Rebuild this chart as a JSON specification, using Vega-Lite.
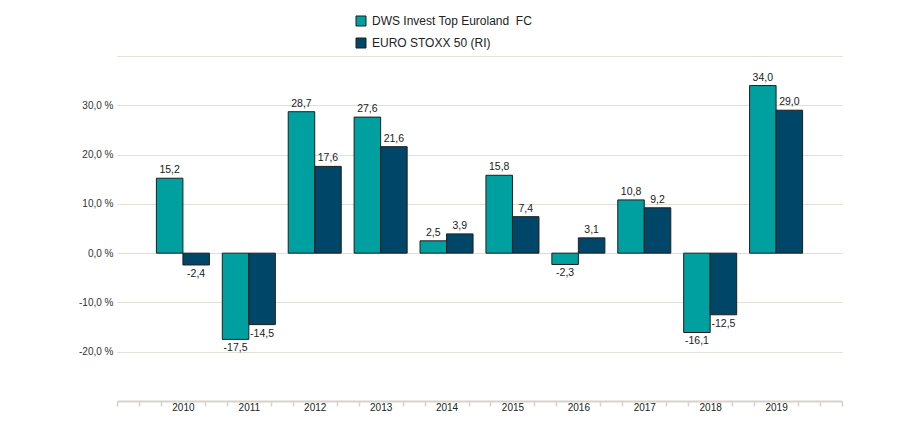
{
  "$schema": "https://vega.github.io/schema/vega-lite/v6.json",
  "width": 725,
  "height": 345,
  "autosize": "none",
  "padding": {"left": 117, "top": 56, "right": 56, "bottom": 27},
  "background": "white",
  "config": {
    "locale": {"number": {"decimal": ",", "thousands": ".", "grouping": [3], "currency": ["", " €"], "minus": "-"}},
    "view": {"stroke": null},
    "font": "Liberation Sans"
  },
  "data": {
    "values": [
      {"year": 2010, "series": "DWS Invest Top Euroland\u00a0 FC", "value": 15.2},
      {"year": 2011, "series": "DWS Invest Top Euroland\u00a0 FC", "value": -17.5},
      {"year": 2012, "series": "DWS Invest Top Euroland\u00a0 FC", "value": 28.7},
      {"year": 2013, "series": "DWS Invest Top Euroland\u00a0 FC", "value": 27.6},
      {"year": 2014, "series": "DWS Invest Top Euroland\u00a0 FC", "value": 2.5},
      {"year": 2015, "series": "DWS Invest Top Euroland\u00a0 FC", "value": 15.8},
      {"year": 2016, "series": "DWS Invest Top Euroland\u00a0 FC", "value": -2.3},
      {"year": 2017, "series": "DWS Invest Top Euroland\u00a0 FC", "value": 10.8},
      {"year": 2018, "series": "DWS Invest Top Euroland\u00a0 FC", "value": -16.1},
      {"year": 2019, "series": "DWS Invest Top Euroland\u00a0 FC", "value": 34.0},
      {"year": 2010, "series": "EURO STOXX 50 (RI)", "value": -2.4},
      {"year": 2011, "series": "EURO STOXX 50 (RI)", "value": -14.5},
      {"year": 2012, "series": "EURO STOXX 50 (RI)", "value": 17.6},
      {"year": 2013, "series": "EURO STOXX 50 (RI)", "value": 21.6},
      {"year": 2014, "series": "EURO STOXX 50 (RI)", "value": 3.9},
      {"year": 2015, "series": "EURO STOXX 50 (RI)", "value": 7.4},
      {"year": 2016, "series": "EURO STOXX 50 (RI)", "value": 3.1},
      {"year": 2017, "series": "EURO STOXX 50 (RI)", "value": 9.2},
      {"year": 2018, "series": "EURO STOXX 50 (RI)", "value": -12.5},
      {"year": 2019, "series": "EURO STOXX 50 (RI)", "value": 29.0}
    ]
  },
  "encoding": {
    "y": {
      "field": "value",
      "type": "quantitative",
      "scale": {"domain": [-30, 40], "nice": false, "zero": false},
      "axis": {
        "title": null,
        "values": [-30, -20, -10, 0, 10, 20, 30, 40],
        "labelExpr": "datum.value >= -20 && datum.value <= 30 ? replace(format(datum.value, '.1f'), '\u2212', '-') + ' %' : ''",
        "domain": false,
        "ticks": false,
        "labelPadding": 4,
        "labelFontSize": 10,
        "labelColor": "#333333",
        "labelFont": "Liberation Sans",
        "gridColor": "#e2dfd8",
        "gridWidth": 1
      }
    }
  },
  "layer": [
    {
      "layer": [
        {
          "mark": {"type": "bar", "stroke": "#1e1e1e", "strokeWidth": 1},
          "encoding": {
            "x": {"field": "year", "type": "ordinal", "scale": {"paddingInner": 0, "paddingOuter": 0.5}, "axis": null},
            "xOffset": {"field": "series", "type": "nominal", "scale": {"paddingInner": 0, "paddingOuter": 0.243}},
            "color": {
              "field": "series",
              "type": "nominal",
              "scale": {"domain": ["DWS Invest Top Euroland\u00a0 FC", "EURO STOXX 50 (RI)"], "range": ["#00a0a0", "#004669"]},
              "legend": {
                "title": null,
                "orient": "none",
                "legendX": 238,
                "legendY": -41,
                "direction": "vertical",
                "padding": 0,
                "symbolType": "square",
                "symbolSize": 100,
                "symbolStrokeColor": "#1e1e1e",
                "symbolStrokeWidth": 1,
                "symbolOpacity": 1,
                "labelFontSize": 12,
                "labelLimit": 0,
                "labelColor": "#222222",
                "labelFont": "Liberation Sans",
                "labelOffset": 5,
                "rowPadding": 8
              }
            }
          }
        },
        {
          "transform": [{"filter": "datum.value >= 0"}],
          "mark": {"type": "text", "baseline": "bottom", "dy": -3, "fontSize": 10.5, "color": "#1a1a1a", "font": "Liberation Sans"},
          "encoding": {
            "x": {"field": "year", "type": "ordinal", "scale": {"paddingInner": 0, "paddingOuter": 0.5}, "axis": null},
            "xOffset": {"field": "series", "type": "nominal", "scale": {"paddingInner": 0, "paddingOuter": 0.243}},
            "text": {"field": "value", "type": "quantitative", "format": ".1f"}
          }
        },
        {
          "transform": [{"filter": "datum.value < 0"}],
          "mark": {"type": "text", "baseline": "top", "dy": 4, "fontSize": 10.5, "color": "#1a1a1a", "font": "Liberation Sans"},
          "encoding": {
            "x": {"field": "year", "type": "ordinal", "scale": {"paddingInner": 0, "paddingOuter": 0.5}, "axis": null},
            "xOffset": {"field": "series", "type": "nominal", "scale": {"paddingInner": 0, "paddingOuter": 0.243}},
            "text": {"field": "value", "type": "quantitative", "format": ".1f"}
          }
        }
      ]
    },
    {
      "mark": {"type": "point", "opacity": 0},
      "encoding": {
        "x": {
          "field": "year",
          "type": "quantitative",
          "scale": {"domain": [2009, 2020], "nice": false, "zero": false},
          "axis": {
            "title": null,
            "grid": false,
            "values": [2009, 2009.3333333, 2009.6666667, 2010, 2010.3333333, 2010.6666667, 2011, 2011.3333333, 2011.6666667, 2012, 2012.3333333, 2012.6666667, 2013, 2013.3333333, 2013.6666667, 2014, 2014.3333333, 2014.6666667, 2015, 2015.3333333, 2015.6666667, 2016, 2016.3333333, 2016.6666667, 2017, 2017.3333333, 2017.6666667, 2018, 2018.3333333, 2018.6666667, 2019, 2019.3333333, 2019.6666667, 2020],
            "labelExpr": "datum.value % 1 === 0 && datum.value > 2009 && datum.value < 2020 ? '' + datum.value : ''",
            "labelOverlap": false,
            "labelFlush": false,
            "labelFontSize": 10,
            "labelColor": "#222222",
            "labelFont": "Liberation Sans",
            "labelPadding": -4,
            "domainColor": "#d8d3c8",
            "domainWidth": 2,
            "tickColor": "#d8d3c8",
            "tickWidth": 1.5,
            "tickSize": 5,
            "tickOpacity": {"condition": {"test": "datum.value % 1 === 0 && datum.value > 2009 && datum.value < 2020", "value": 0}, "value": 1}
          }
        }
      }
    }
  ],
  "resolve": {"scale": {"x": "independent"}}
}
